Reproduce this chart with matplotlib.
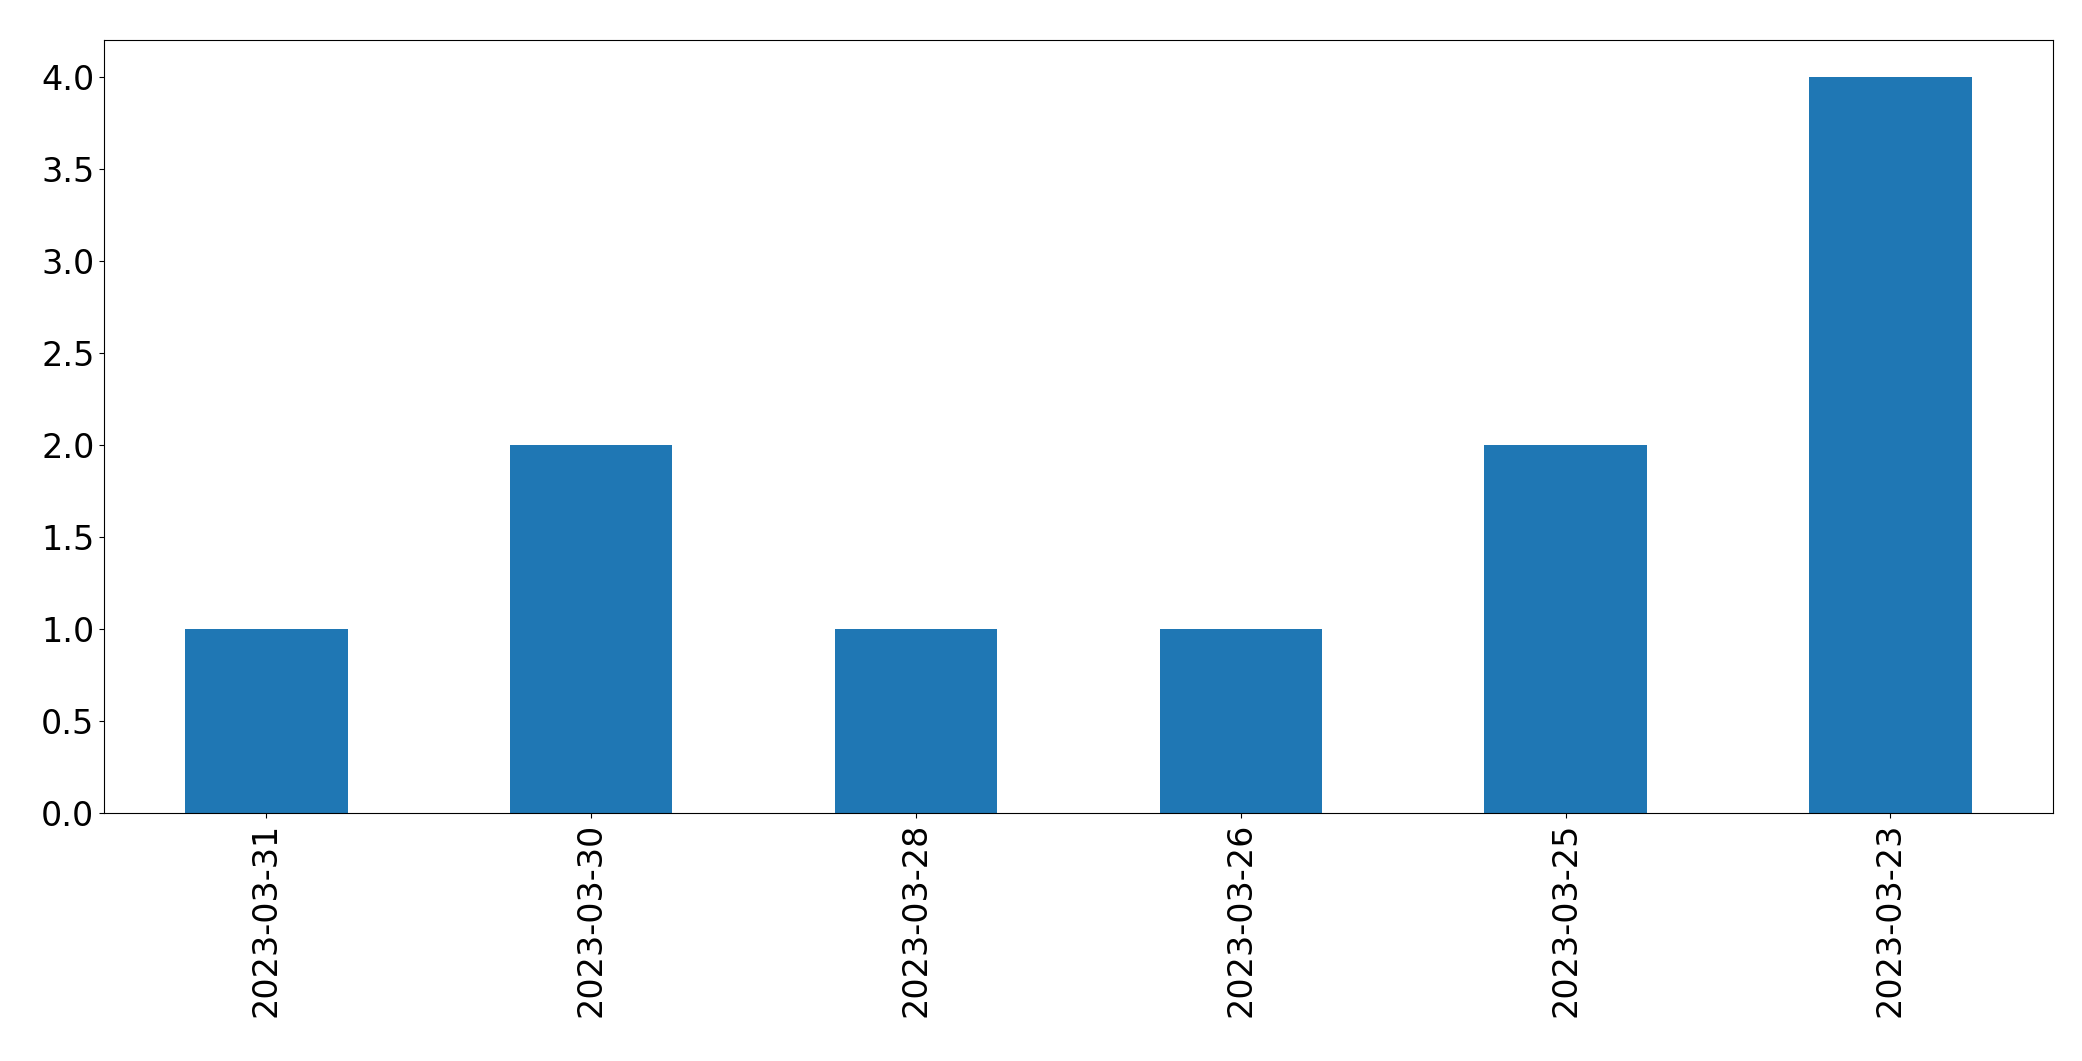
import matplotlib
matplotlib.use("Agg")
import matplotlib.pyplot as plt

dates = ["2023-03-31", "2023-03-30", "2023-03-28", "2023-03-26", "2023-03-25", "2023-03-23"]
counts = [1, 2, 1, 1, 2, 4]

fig = plt.figure(figsize=(20.82, 10.61), dpi=100)
ax = fig.add_axes([0.05, 0.234, 0.936, 0.728])
x = range(len(dates))
ax.bar(x, counts, width=0.5, color="#1f77b4")
ax.set_xlim(-0.5, len(dates) - 0.5)
ax.set_ylim(0, 4.2)
ax.set_xticks(list(x))
ax.set_xticklabels(dates, rotation=90)
ax.tick_params(labelsize=24)
fig.savefig("out.png", dpi=100)
